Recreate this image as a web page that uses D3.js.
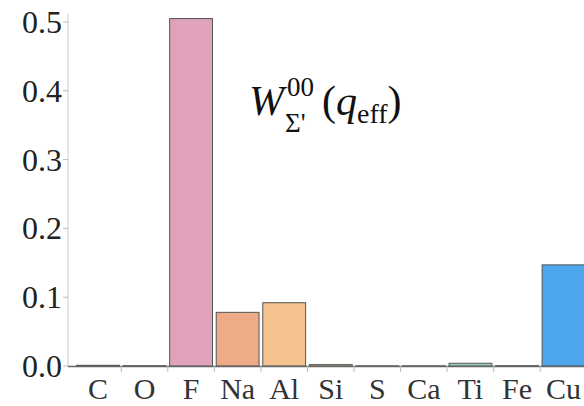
<!DOCTYPE html>
<html>
<head>
<meta charset="utf-8">
<script src="https://cdn.jsdelivr.net/npm/d3@7"></script>
<style>
  .lbl { position: absolute; font-family: "Liberation Serif", "Times New Roman", Tinos, serif; white-space: nowrap; line-height: 1; }
</style>
</head>
<body style="margin:0;background:#fff">
<div id="wrap" style="position:relative;width:584px;height:406px;overflow:hidden">
<svg id="chart" width="584" height="406" style="display:block;position:absolute;left:0;top:0"></svg>
</div>
<script>
// Elements and their response values
const elements = ["C", "O", "F", "Na", "Al", "Si", "S", "Ca", "Ti", "Fe", "Cu"];
const values   = [0.001, 0.0005, 0.505, 0.078, 0.092, 0.002, 0.0003, 0.0003, 0.004, 0.0005, 0.147];
const colors   = ["#c98aa8", "#d494b0", "#e0a2ba", "#efab87", "#f3c28d", "#f2d79a", "#d9e3a0", "#b8dca8", "#9ccfbf", "#7dbde0", "#4ea6ec"];
const yTicks   = [0.0, 0.1, 0.2, 0.3, 0.4, 0.5];

const svg = d3.select("#chart");
const wrap = d3.select("#wrap");

const x = d3.scaleBand()
  .domain(elements)
  .range([74.7, 586.8])
  .paddingInner(0.08)
  .paddingOuter(0.04);

const y = d3.scaleLinear()
  .domain([0, 0.5])
  .range([366, 22]);

// y axis: faint spine with short ticks on the left
svg.append("line")
  .attr("x1", 68).attr("x2", 68)
  .attr("y1", 14).attr("y2", 366)
  .attr("stroke", "#d4d4d4").attr("stroke-width", 1.2);

svg.append("g").selectAll("line")
  .data(yTicks)
  .join("line")
  .attr("x1", 63).attr("x2", 68)
  .attr("y1", d => y(d)).attr("y2", d => y(d))
  .attr("stroke", "#bbb").attr("stroke-width", 1);

// bars
svg.append("g")
  .selectAll("rect")
  .data(elements.map((e, i) => ({ e, v: values[i], c: colors[i] })))
  .join("rect")
  .attr("x", d => x(d.e))
  .attr("width", x.bandwidth())
  .attr("y", d => y(d.v))
  .attr("height", d => y(0) - y(d.v))
  .attr("fill", d => d.c)
  .attr("stroke", "#555")
  .attr("stroke-width", 1);

// baseline
svg.append("line")
  .attr("x1", 68).attr("x2", 584)
  .attr("y1", 366.5).attr("y2", 366.5)
  .attr("stroke", "#666").attr("stroke-width", 1.3);

// ticks between neighbouring bars
const gap = x.step() * x.paddingInner();
svg.append("g")
  .selectAll("line")
  .data(elements.slice(1))
  .join("line")
  .attr("x1", d => x(d) - gap / 2).attr("x2", d => x(d) - gap / 2)
  .attr("y1", 366).attr("y2", 372)
  .attr("stroke", "#bbb").attr("stroke-width", 1);

// y tick labels (HTML text, right-aligned to the axis)
wrap.selectAll("div.ytick")
  .data(yTicks)
  .join("div")
  .attr("class", "lbl ytick")
  .style("right", (584 - 62) + "px")
  .style("top", d => (y(d) - 16) + "px")
  .style("font-size", "32px")
  .style("color", "#222")
  .text(d => d.toFixed(1));

// category labels
wrap.selectAll("div.xtick")
  .data(elements)
  .join("div")
  .attr("class", "lbl xtick")
  .style("left", d => (x(d) + x.bandwidth() / 2) + "px")
  .style("top", "374px")
  .style("transform", "translateX(-50%)")
  .style("font-size", "30px")
  .style("color", "#333")
  .text(d => d);

// formula label W^{00}_{Σ'}(q_eff)
const formula = wrap.append("div")
  .attr("class", "lbl")
  .style("left", "249px")
  .style("top", "80px")
  .style("font-size", "42px")
  .style("color", "#111");
formula.append("i").text("W");
const stack = formula.append("span")
  .style("display", "inline-block")
  .style("position", "relative")
  .style("width", "38px")
  .style("height", "42px")
  .style("vertical-align", "top");
stack.append("span").style("position", "absolute").style("left", "3px").style("top", "-6px")
  .style("font-size", "27px").text("00");
stack.append("span").style("position", "absolute").style("left", "1px").style("top", "30px")
  .style("font-size", "27px").text("Σ'");
formula.append("span").text("(");
formula.append("i").text("q");
formula.append("span").style("font-size", "28px").style("position", "relative").style("top", "8px").text("eff");
formula.append("span").text(")");
</script>
</body>
</html>
